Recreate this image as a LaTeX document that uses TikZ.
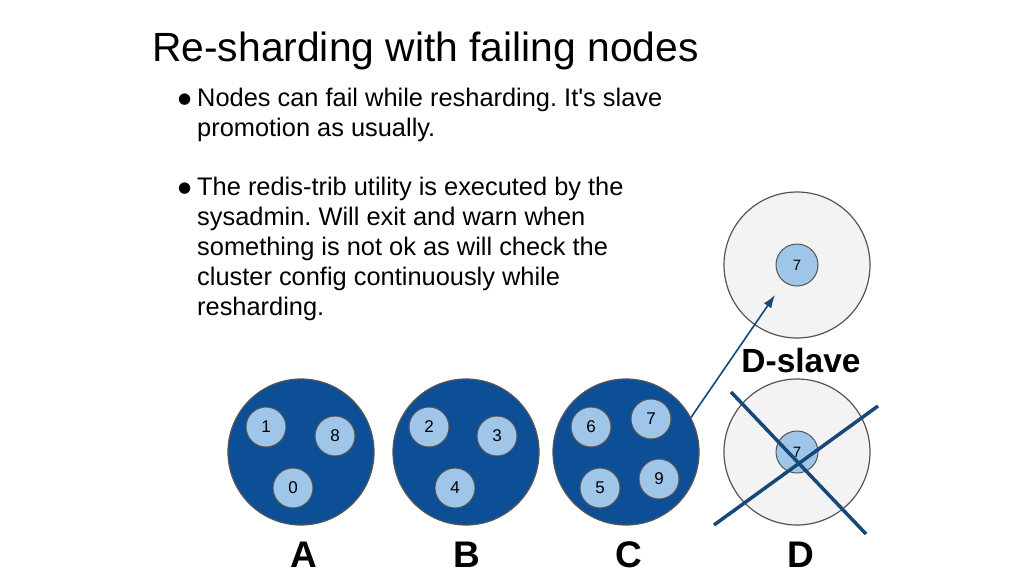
\documentclass[tikz,border=0pt]{standalone}
\usepackage{fontspec}
\setmainfont{Liberation Sans}[Ligatures=TeXOff]
\newfontfamily\dotfont{DejaVu Sans}
\usetikzlibrary{arrows.meta}
\definecolor{shardblue}{RGB}{12,79,150}
\definecolor{slotblue}{RGB}{159,197,232}
\definecolor{rimgray}{RGB}{85,85,85}
\definecolor{deadgray}{RGB}{243,243,243}
\definecolor{crossblue}{RGB}{22,72,120}
\newcommand\dotmark{\makebox[0pt][r]{\raisebox{3.5pt}{\dotfont\fontsize{15}{15}\selectfont ●}\hspace{6pt}}}

\begin{document}
\frenchspacing
\begin{tikzpicture}[x=1pt,y=-1pt,
  master/.style={circle,minimum size=146pt,inner sep=0pt,fill=shardblue,draw=rimgray,line width=1.2pt},
  dead/.style={circle,minimum size=146pt,inner sep=0pt,fill=deadgray,draw=rimgray,line width=1.2pt},
  slot/.style={circle,minimum size=40pt,inner sep=0pt,fill=slotblue,draw=rimgray,line width=1pt,font=\fontsize{17}{17}\selectfont},
  small slot/.style={slot,minimum size=42pt,font=\fontsize{15}{15}\selectfont},
  tag/.style={font=\fontsize{37}{37}\selectfont\bfseries,inner sep=1pt},
  bullet/.style={anchor=north west,align=left,inner sep=0pt,font=\fontsize{25.4}{30}\selectfont}]
\useasboundingbox[fill=white] (0,0) rectangle (1024,576);

\node[anchor=base west,inner sep=0pt,font=\fontsize{40.8}{41}\selectfont] (title) at (152,61) {Re-sharding with failing nodes};
\node[bullet] (b1) at (197,88) {\dotmark Nodes can fail while resharding. It's slave\\
promotion as usually.};
\node[bullet] (b2) at (197,177) {\dotmark The redis-trib utility is executed by the\\
sysadmin. Will exit and warn when\\
something is not ok as will check the\\
cluster config continuously while\\
resharding.};

% masters
\node[master] (A) at (301,452) {};
\node[master] (B) at (466,452) {};
\node[master] (C) at (626,452) {};
\node[slot] (a1) at (266,427) {1};
\node[slot] (a8) at (335,436) {8};
\node[slot] (a0) at (293,488) {0};
\node[slot] (b2s) at (429,427) {2};
\node[slot] (b3) at (497,436) {3};
\node[slot] (b4) at (455,488) {4};
\node[slot] (c6) at (591,427) {6};
\node[slot] (c7) at (651,419) {7};
\node[slot] (c5) at (600,488) {5};
\node[slot] (c9) at (659,479) {9};

% failing node and its slave
\node[dead] (Ds) at (797,265) {};
\node[dead] (D) at (797,452) {};
\node[small slot] (ds7) at (Ds) {7};
\node[small slot] (d7) at (D) {7};
\draw[crossblue,line width=3.5pt] (731,392) -- (866,534);
\draw[crossblue,line width=3.5pt] (714,525) -- (878,406);

\coordinate (promo) at (775,295);
\draw[crossblue,line width=1.6pt,-{Latex[length=13pt,width=9pt]}] (C.28) -- (promo);

\node[tag] (lA) at (304,555) {A};
\node[tag] (lB) at (467,555) {B};
\node[tag] (lC) at (629,555) {C};
\node[tag] (lD) at (801,555) {D};
\node[tag,font=\fontsize{33.5}{33}\selectfont\bfseries] (lDs) at (801,361) {D-slave};
\end{tikzpicture}
\end{document}
